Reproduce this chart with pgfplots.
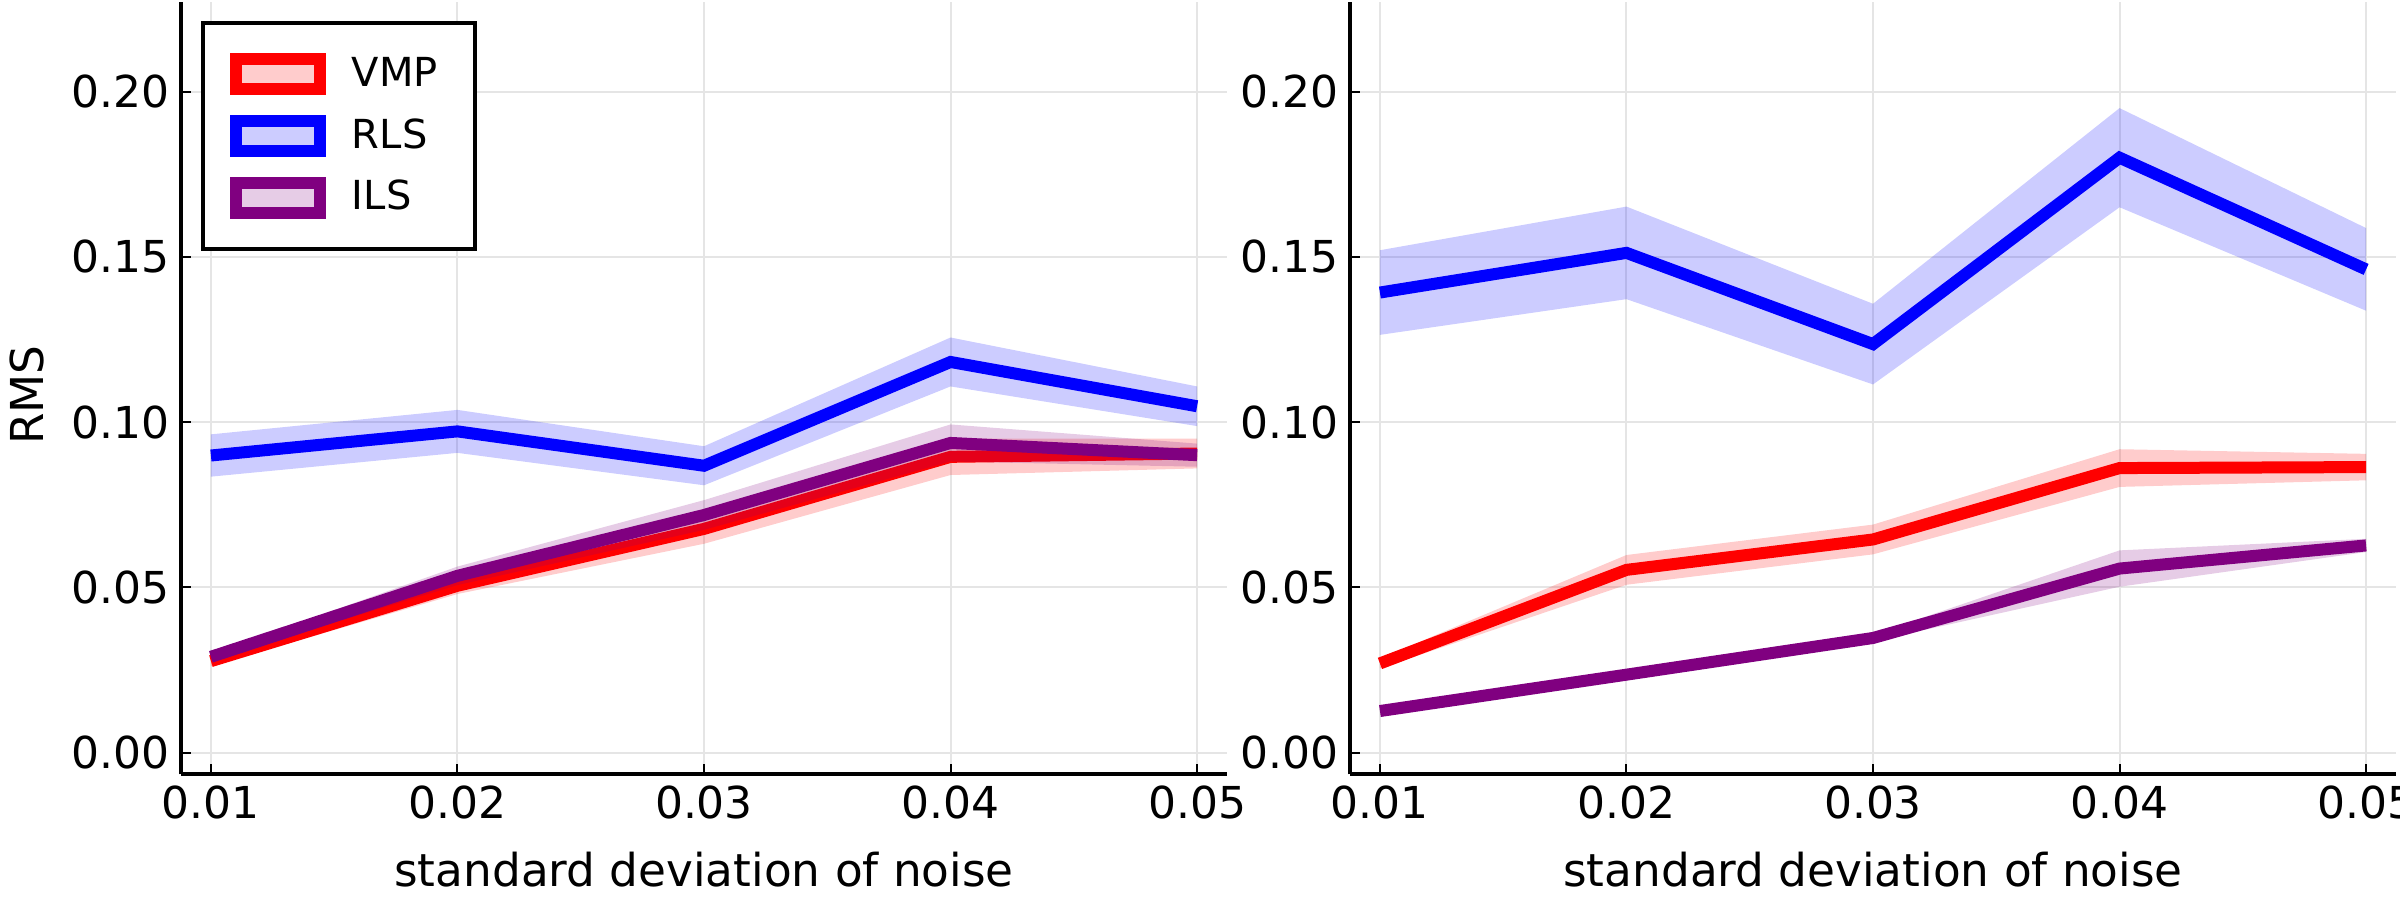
\documentclass[border=0pt]{standalone}
\usepackage{fontspec}
\setmainfont{DejaVu Sans}
\usepackage{pgfplots}
\pgfplotsset{compat=1.18}
\definecolor{cvmp}{RGB}{255,0,0}
\definecolor{crls}{RGB}{0,0,255}
\definecolor{cils}{RGB}{128,0,128}
\pgfplotsset{
  band/.style={draw=none, fill=#1, fill opacity=0.2, forget plot},
  ser/.style={draw=#1, line width=3.6pt, forget plot},
  myaxis/.style={
    scale only axis, width=313.6pt, height=231.75pt,
    xmin=0.0088, xmax=0.0512, ymin=-0.0066, ymax=0.2271,
    axis lines=left, axis line style={-, line width=1.2pt, black},
    xtick={0.01,0.02,0.03,0.04,0.05}, ytick={0,0.05,0.1,0.15,0.2},
    scaled x ticks=false, scaled y ticks=false,
    xticklabel style={/pgf/number format/fixed, /pgf/number format/fixed zerofill, /pgf/number format/precision=2},
    yticklabel style={/pgf/number format/fixed, /pgf/number format/fixed zerofill, /pgf/number format/precision=2},
    /pgf/number format/assume math mode=true,
    tick align=inside, major tick length=3pt, tick style={line width=0.6pt, black},
    xtick pos=bottom, ytick pos=left,
    grid=major, major grid style={line width=0.6pt, black!10},
    ticklabel style={font=\fontsize{13.2}{15}\selectfont},
    xlabel={standard deviation of noise},
    xlabel style={at={(axis description cs:0.5,0)}, anchor=base, yshift=-33.75pt, font=\fontsize{13.6}{16}\selectfont},
  }
}
\begin{document}
\begin{tikzpicture}
\path[use as bounding box] (0pt,0pt) rectangle (720pt,270pt);
% ---------------- left panel ----------------
\begin{axis}[myaxis, at={(54.4pt,37.65pt)}, anchor=south west,
  ylabel={RMS},
  ylabel style={at={(axis description cs:-0.148,0.491)}, anchor=center, font=\fontsize{13.6}{16}\selectfont},
  legend image code/.code={\draw[#1] (0pt,-4.5pt) rectangle (25.2pt,4.5pt);},
  legend cell align=left,
  legend style={at={(axis description cs:0.0189,0.9759)}, anchor=north west, draw=black, line width=1.2pt,
    font=\fontsize{12}{14}\selectfont,
    inner xsep=8pt, inner ysep=9.2pt, row sep=5.9pt, column sep=7.85pt,
    nodes={inner sep=0pt, font=\fontsize{12}{14}\selectfont}},
]
\addlegendimage{line width=3.6pt, draw=cvmp, fill=cvmp!20}
\addlegendentry{VMP\rule{3.2pt}{0pt}}
\addlegendimage{line width=3.6pt, draw=crls, fill=crls!20}
\addlegendentry{RLS}
\addlegendimage{line width=3.6pt, draw=cils, fill=cils!20}
\addlegendentry{ILS}
% VMP
\addplot[band=cvmp] coordinates {(0.01,0.0292) (0.02,0.0530) (0.03,0.0722) (0.04,0.0950) (0.05,0.0950)
  (0.05,0.0860) (0.04,0.0840) (0.03,0.0632) (0.02,0.0480) (0.01,0.0262)};
\addplot[ser=cvmp] coordinates {(0.01,0.0277) (0.02,0.0505) (0.03,0.0677) (0.04,0.0895) (0.05,0.0905)};
% RLS
\addplot[band=crls] coordinates {(0.01,0.0963) (0.02,0.1037) (0.03,0.0927) (0.04,0.1256) (0.05,0.1108)
  (0.05,0.0988) (0.04,0.1108) (0.03,0.0809) (0.02,0.0907) (0.01,0.0835)};
\addplot[ser=crls] coordinates {(0.01,0.0899) (0.02,0.0972) (0.03,0.0868) (0.04,0.1182) (0.05,0.1048)};
% ILS
\addplot[band=cils] coordinates {(0.01,0.0300) (0.02,0.0563) (0.03,0.0764) (0.04,0.0993) (0.05,0.0935)
  (0.05,0.0865) (0.04,0.0881) (0.03,0.0674) (0.02,0.0507) (0.01,0.0280)};
\addplot[ser=cils] coordinates {(0.01,0.0290) (0.02,0.0535) (0.03,0.0719) (0.04,0.0937) (0.05,0.0900)};
\end{axis}
% ---------------- right panel ----------------
\begin{axis}[myaxis, at={(405.1pt,37.65pt)}, anchor=south west]
% VMP
\addplot[band=cvmp] coordinates {(0.01,0.0285) (0.02,0.0598) (0.03,0.0690) (0.04,0.0918) (0.05,0.0904)
  (0.05,0.0824) (0.04,0.0804) (0.03,0.0600) (0.02,0.0508) (0.01,0.0255)};
\addplot[ser=cvmp] coordinates {(0.01,0.0270) (0.02,0.0553) (0.03,0.0645) (0.04,0.0861) (0.05,0.0864)};
% RLS
\addplot[band=crls] coordinates {(0.01,0.1520) (0.02,0.1652) (0.03,0.1358) (0.04,0.1950) (0.05,0.1587)
  (0.05,0.1337) (0.04,0.1650) (0.03,0.1114) (0.02,0.1372) (0.01,0.1264)};
\addplot[ser=crls] coordinates {(0.01,0.1392) (0.02,0.1512) (0.03,0.1236) (0.04,0.1800) (0.05,0.1462)};
% ILS
\addplot[band=cils] coordinates {(0.01,0.0129) (0.02,0.0239) (0.03,0.0357) (0.04,0.0612) (0.05,0.0647)
  (0.05,0.0607) (0.04,0.0502) (0.03,0.0337) (0.02,0.0233) (0.01,0.0123)};
\addplot[ser=cils] coordinates {(0.01,0.0126) (0.02,0.0236) (0.03,0.0347) (0.04,0.0557) (0.05,0.0627)};
\end{axis}
\end{tikzpicture}
\end{document}
